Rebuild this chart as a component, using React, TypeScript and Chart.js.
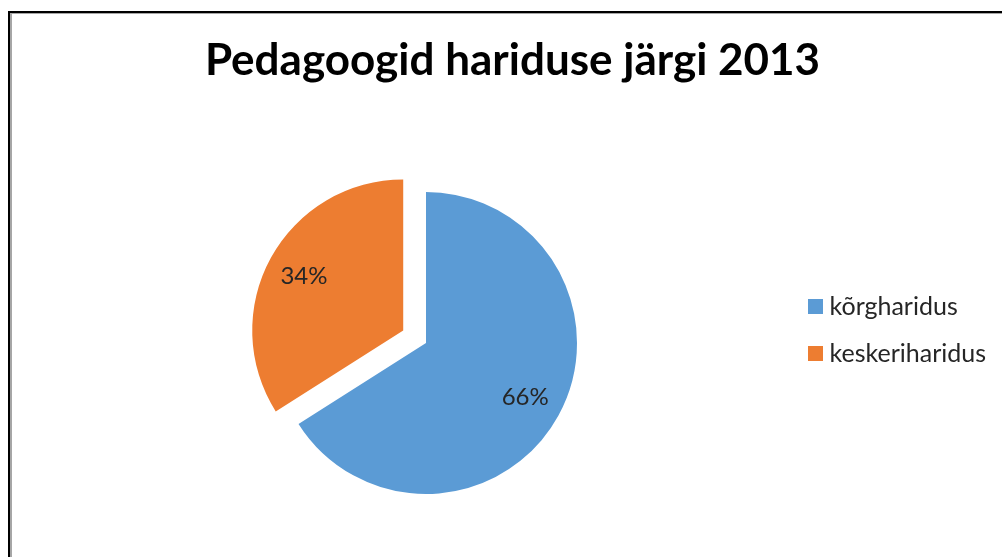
import React, { useEffect, useRef } from 'react';
import { Chart, registerables } from 'chart.js';

Chart.register(...registerables);

const chartTitle = 'Pedagoogid hariduse järgi 2013';
const categories = ['kõrgharidus', 'keskeriharidus'];
const values = [66, 34];
const sliceColors = ['#5B9BD5', '#ED7D31'];

const FONT = 'Lato, "Noto Sans", "DejaVu Sans", sans-serif';
const EXPLODE = [0, 26];
const LABEL_RADIUS = 0.75;
const LEGEND_SHIFT_Y = -13;
const SWATCH = 15;
const TEXT_COLOR = '#262626';

const explodePlugin = {
  id: 'explodeSlices',
  beforeDatasetDraw(chart: any, args: any) {
    const ctx = chart.ctx;
    args.meta.data.forEach((arc: any, i: number) => {
      const d = EXPLODE[i] || 0;
      const mid = (arc.startAngle + arc.endAngle) / 2;
      ctx.save();
      ctx.translate(Math.cos(mid) * d, Math.sin(mid) * d);
      arc.draw(ctx);
      ctx.restore();
    });
    return false;
  },
};

const pctPlugin = {
  id: 'pctLabels',
  afterDatasetsDraw(chart: any) {
    const meta = chart.getDatasetMeta(0);
    const total = values.reduce((a, b) => a + b, 0);
    const ctx = chart.ctx;
    ctx.save();
    ctx.font = `24px ${FONT}`;
    ctx.fillStyle = TEXT_COLOR;
    ctx.textAlign = 'center';
    ctx.textBaseline = 'middle';
    meta.data.forEach((arc: any, i: number) => {
      const mid = (arc.startAngle + arc.endAngle) / 2;
      const r = arc.outerRadius * LABEL_RADIUS + (EXPLODE[i] || 0);
      ctx.fillText(
        Math.round((values[i] / total) * 100) + '%',
        arc.x + Math.cos(mid) * r,
        arc.y + Math.sin(mid) * r
      );
    });
    ctx.restore();
  },
};

const legendShiftPlugin = {
  id: 'legendShift',
  afterLayout(chart: any) {
    const lg = chart.legend;
    const ca = chart.chartArea;
    if (!lg || !ca) return;
    lg.top = ca.top + LEGEND_SHIFT_Y;
    lg.bottom = ca.bottom + LEGEND_SHIFT_Y;
    lg.height = lg.bottom - lg.top;
    lg.right = chart.width;
    lg.width = lg.right - lg.left;
  },
};

function makeSwatch(color: string) {
  const c = document.createElement('canvas');
  c.width = SWATCH;
  c.height = SWATCH;
  const x = c.getContext('2d')!;
  x.fillStyle = color;
  x.fillRect(0, 0, SWATCH, SWATCH);
  return c;
}

export default function App() {
  const ref = useRef<HTMLCanvasElement | null>(null);

  useEffect(() => {
    if (!ref.current) return;
    const swatches = sliceColors.map(makeSwatch);
    const chart = new Chart(ref.current, {
      type: 'pie',
      data: {
        labels: categories,
        datasets: [
          {
            data: values,
            backgroundColor: sliceColors,
            borderWidth: 0,
          },
        ],
      },
      options: {
        responsive: false,
        animation: false,
        events: [],
        layout: { padding: { left: 61, right: 38, top: 0, bottom: 63 } },
        plugins: {
          title: {
            display: true,
            text: chartTitle,
            color: '#000000',
            font: { family: FONT, size: 44, weight: 'bold' },
            padding: { top: 34.6, bottom: 104.6 },
          },
          legend: {
            display: true,
            position: 'right',
            maxWidth: 173,
            labels: {
              usePointStyle: true,
              pointStyleWidth: 4,
              padding: 22,
              color: TEXT_COLOR,
              font: { family: FONT, size: 25 },
              generateLabels: () =>
                categories.map((c, i) => ({
                  text: c,
                  fillStyle: sliceColors[i],
                  strokeStyle: sliceColors[i],
                  lineWidth: 0,
                  pointStyle: swatches[i],
                  hidden: false,
                  index: i,
                  fontColor: TEXT_COLOR,
                })),
            },
          },
          tooltip: { enabled: false },
        },
      } as any,
      plugins: [explodePlugin, pctPlugin, legendShiftPlugin],
    });
    return () => chart.destroy();
  }, []);

  return (
    <div
      style={{
        position: 'fixed',
        left: 0,
        top: 0,
        width: 1002,
        height: 557,
        overflow: 'hidden',
        background: '#ffffff',
      }}
    >
      <div
        style={{
          position: 'absolute',
          left: 8,
          top: 11,
          width: 1100,
          height: 700,
          borderTop: '2px solid #000000',
          borderLeft: '2px solid #000000',
        }}
      >
        <div
          style={{
            width: '100%',
            height: '100%',
            borderTop: '1px solid #a6a6a6',
            borderLeft: '2px solid #a6a6a6',
          }}
        />
      </div>
      <canvas
        ref={ref}
        width={1002}
        height={557}
        style={{ position: 'absolute', left: 0, top: 0, width: 1002, height: 557 }}
      />
    </div>
  );
}
